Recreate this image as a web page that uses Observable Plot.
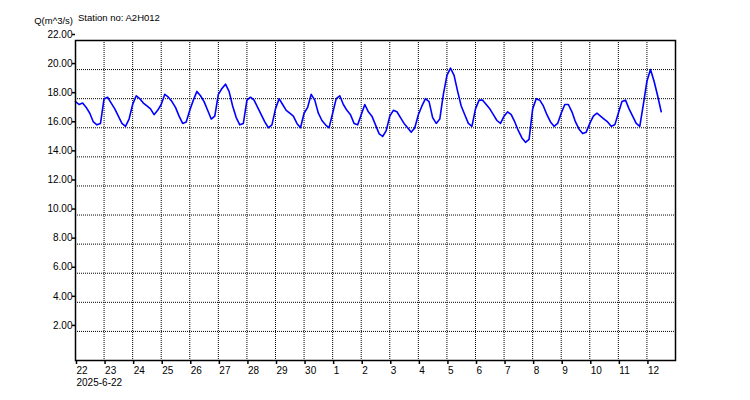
<!DOCTYPE html>
<html><head><meta charset="utf-8">
<script src="https://cdn.jsdelivr.net/npm/d3@7"></script>
<script src="https://cdn.jsdelivr.net/npm/@observablehq/plot@0.6"></script>
<style>
body{margin:0;background:#fff;font-family:"Liberation Sans",Arial,sans-serif}
#wrap{position:relative;width:750px;height:400px}
.lbl{position:absolute;font-size:9.5px;color:#000;white-space:nowrap;line-height:12px}
</style></head><body>
<div id="wrap">
  <div class="lbl" id="ylab" style="right:677px;top:15px">Q(m^3/s)</div>
  <div class="lbl" id="station" style="left:78px;top:12px">Station no: A2H012</div>
</div>
<script>
// ---- data (one reading every 3 hours from 2025-06-22 00:00) ----
const stationName = "Station no: A2H012";
const yAxisTitle = "Q(m^3/s)";
const seriesStart = "2025-06-22T00:00:00Z";
const axisEnd = "2025-07-13T00:00:00Z";
const stepHours = 3;
const flow = [
  17.8, 17.6, 17.7, 17.4, 17.0, 16.4, 16.2, 16.3,
  18.0, 18.1, 17.7, 17.3, 16.8, 16.3, 16.1, 16.6,
  17.6, 18.2, 18.0, 17.7, 17.5, 17.3, 16.9, 17.2,
  17.6, 18.3, 18.1, 17.8, 17.4, 16.8, 16.3, 16.4,
  17.2, 17.9, 18.5, 18.2, 17.8, 17.2, 16.6, 16.8,
  18.3, 18.7, 19.0, 18.5, 17.5, 16.7, 16.2, 16.3,
  17.9, 18.1, 17.9, 17.4, 16.9, 16.4, 16.0, 16.2,
  17.3, 18.0, 17.6, 17.2, 17.0, 16.8, 16.3, 16.0,
  17.0, 17.4, 18.3, 17.9, 17.0, 16.5, 16.2, 16.0,
  17.0, 18.0, 18.2, 17.6, 17.2, 16.9, 16.3, 16.2,
  16.9, 17.6, 17.1, 16.8, 16.2, 15.6, 15.4, 15.8,
  16.8, 17.2, 17.1, 16.7, 16.3, 16.0, 15.7, 16.0,
  16.9, 17.5, 18.0, 17.8, 16.7, 16.3, 16.6, 18.3,
  19.6, 20.1, 19.6, 18.5, 17.5, 16.9, 16.3, 16.1,
  17.3, 17.9, 17.9, 17.6, 17.3, 16.9, 16.5, 16.3,
  16.8, 17.1, 16.9, 16.4, 15.8, 15.3, 15.0, 15.2,
  17.3, 18.0, 17.9, 17.5, 16.9, 16.4, 16.1, 16.3,
  17.0, 17.6, 17.6, 17.1, 16.4, 15.9, 15.6, 15.7,
  16.3, 16.8, 17.0, 16.8, 16.6, 16.4, 16.1, 16.2,
  17.0, 17.8, 17.9, 17.3, 16.8, 16.3, 16.1, 17.6,
  19.2, 20.0, 19.2, 18.2, 17.1
];
const yTicks = [2, 4, 6, 8, 10, 12, 14, 16, 18, 20, 22];
const firstDateLabel = "2025-6-22";

// ---- build table ----
const t0 = new Date(seriesStart);
const data = flow.map((q, i) => ({t: new Date(+t0 + i * stepHours * 3600e3), q}));
const dayTicks = d3.utcDay.range(t0, new Date(axisEnd));

const chart = Plot.plot({
  width: 750, height: 400,
  marginLeft: 75, marginRight: 75, marginTop: 40, marginBottom: 40,
  style: {fontFamily: "'Liberation Sans', Arial, sans-serif", fontSize: "10px", color: "#000", background: "#fff"},
  x: {type: "utc", domain: [t0, new Date(axisEnd)]},
  y: {domain: [0, 22]},
  marks: [
    Plot.gridX(dayTicks, {stroke: "#000", strokeOpacity: 1, strokeDasharray: "1,1"}),
    Plot.gridY(yTicks, {stroke: "#000", strokeOpacity: 1, strokeDasharray: "1,1"}),
    Plot.axisY(yTicks, {tickFormat: d => d.toFixed(2), tickSize: 3, tickPadding: 0, dy: -6, label: null, stroke: "#000", strokeWidth: 1.5}),
    Plot.axisX(dayTicks, {
      tickFormat: (d, i) => i === 0 ? `${d.getUTCDate()}\n${firstDateLabel}` : `${d.getUTCDate()}`,
      tickSize: 4, tickPadding: 1, textAnchor: "start", dx: 1, lineHeight: 1.17, label: null, stroke: "#000", strokeWidth: 1.5
    }),
    Plot.line(data, {x: "t", y: "q", stroke: "#0000ff", strokeWidth: 1.6}),
    Plot.frame({stroke: "#000", strokeWidth: 1.5})
  ]
});
document.getElementById("wrap").prepend(chart);
document.getElementById("ylab").textContent = yAxisTitle;
document.getElementById("station").textContent = stationName;
</script>
</body></html>
